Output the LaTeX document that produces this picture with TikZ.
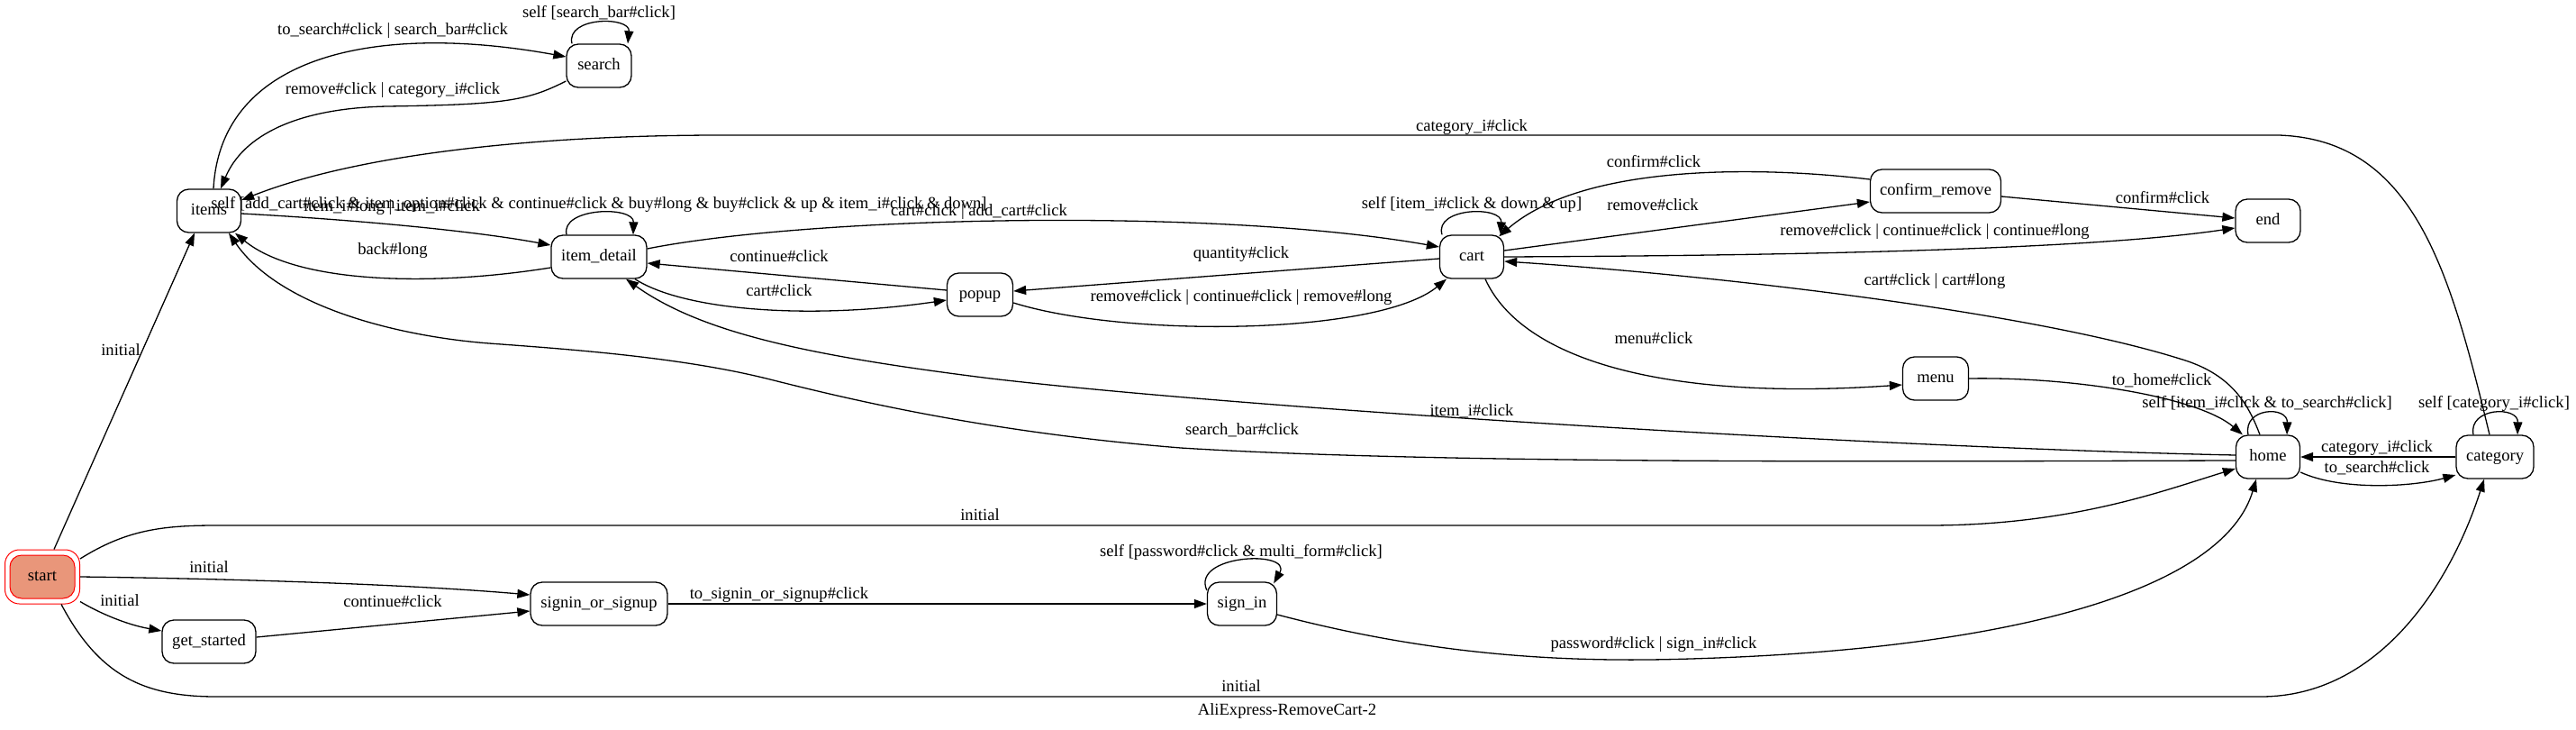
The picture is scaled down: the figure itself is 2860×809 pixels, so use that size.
\documentclass[tikz,border=0pt]{standalone}
\usepackage{fontspec}
\setmainfont{Liberation Serif}
\usetikzlibrary{arrows.meta}
\definecolor{salmonfill}{HTML}{E9967A}
\begin{document}
\begin{tikzpicture}[x=1pt,y=-1pt,
  every node/.style={font=\fontsize{18.6pt}{22pt}\selectfont},
  state/.style={draw, line width=1.3pt, rounded corners=13pt, minimum height=48pt, inner sep=0pt, text height=13pt, text depth=3.7pt},
  lbl/.style={inner sep=0pt, text height=13pt, text depth=3.7pt},
  edge/.style={line width=1.3pt, -{Triangle[length=14pt,width=10pt]}},
]
\fill[white] (0,0) rectangle (2860,809);
\useasboundingbox (0,0) rectangle (2860,809);

% nodes
\node[state, minimum width=72pt, fill=salmonfill, draw=red, line width=1pt] (start) at (47,640) {start};
\node[draw=red, line width=1pt, rounded corners=16pt, minimum width=83pt, minimum height=60pt, inner sep=0pt] (startouter) at (47,640) {};
\node[state, minimum width=71pt] (items) at (232,234) {items};
\node[state, minimum width=72pt] (search) at (665,73) {search};
\node[state, minimum width=106pt] (itemdetail) at (665,285) {item\_detail};
\node[state, minimum width=73pt] (popup) at (1088,327) {popup};
\node[state, minimum width=71pt] (cart) at (1634,285) {cart};
\node[state, minimum width=145pt] (confirmremove) at (2149,212) {confirm\_remove};
\node[state, minimum width=72pt] (endn) at (2518,245) {end};
\node[state, minimum width=73pt] (menu) at (2149,420) {menu};
\node[state, minimum width=71pt] (home) at (2518,507) {home};
\node[state, minimum width=86pt] (category) at (2770,507) {category};
\node[state, minimum width=104pt] (getstarted) at (232,712) {get\_started};
\node[state, minimum width=152pt] (signinup) at (665,670) {signin\_or\_signup};
\node[state, minimum width=77pt] (signin) at (1379,670) {sign\_in};

% edges from start
\draw[edge] ([xshift=13pt]startouter.north) -- ([xshift=-16pt]items.south);
\draw[edge] ([yshift=20pt]startouter.east) .. controls (140,588) and (180,583) .. (240,583) -- (2140,583) .. controls (2300,583) and (2400,545) .. ([yshift=-13pt]home.west);
\draw[edge] (startouter.east) .. controls (250,642) and (450,648) .. ([yshift=10pt]signinup.west);
\draw[edge] ([yshift=3pt]startouter.south east) .. controls (110,680) and (140,693) .. ([yshift=12pt]getstarted.west);
\draw[edge] ([xshift=21pt]startouter.south) .. controls (110,750) and (160,773) .. (240,773) -- (2510,773) .. controls (2640,773) and (2720,650) .. ([xshift=-12pt]category.south);

% sign-in chain
\draw[edge] ([yshift=5pt]getstarted.east) -- ([yshift=-8pt]signinup.west);
\draw[edge] (signinup.east) -- (signin.west);
\draw[edge] ([yshift=15pt]signin.west) .. controls (1322,615) and (1435,610) .. ([xshift=-4pt,yshift=-2pt]signin.north east);
\draw[edge] ([yshift=-12pt]signin.east) .. controls (1600,730) and (1750,735) .. (1877,731) .. controls (2250,720) and (2470,650) .. ([xshift=-13pt]home.south);

% items / search
\draw[edge] ([xshift=5pt]items.north) .. controls (245,60) and (420,25) .. ([yshift=10pt]search.west);
\draw[edge] ([yshift=-17pt]search.west) .. controls (585,112) and (560,116) .. (430,118) .. controls (330,120) and (270,150) .. ([xshift=13pt]items.north);
\draw[edge] ([xshift=-30pt]search.north) .. controls (628,18) and (700,18) .. ([xshift=32pt]search.north);

% items / item_detail
\draw[edge] ([yshift=-3pt]items.east) .. controls (380,243) and (520,255) .. ([yshift=13pt]itemdetail.west);
\draw[edge] ([yshift=-12pt]itemdetail.west) .. controls (480,318) and (330,315) .. ([xshift=29pt]items.south);
\draw[edge] ([xshift=-36pt]itemdetail.north) .. controls (622,230) and (704,228) .. ([xshift=38pt]itemdetail.north);

% item_detail / popup / cart
\draw[edge] ([yshift=9pt]itemdetail.east) .. controls (900,240) and (1350,230) .. ([yshift=11pt]cart.west);
\draw[edge] ([yshift=-2pt]cart.west) -- ([yshift=4pt]popup.east);
\draw[edge] ([yshift=-9pt]popup.east) .. controls (1250,375) and (1530,372) .. ([xshift=-28pt]cart.south);
\draw[edge] ([yshift=5pt]popup.west) -- ([yshift=-7pt]itemdetail.east);
\draw[edge] ([xshift=40pt]itemdetail.south) .. controls (760,345) and (900,355) .. ([yshift=-6pt]popup.west);
\draw[edge] ([xshift=-33pt]cart.north) .. controls (1592,230) and (1668,228) .. ([xshift=32pt]cart.north);

% cart / confirm_remove / end / menu
\draw[edge] ([yshift=7pt]cart.east) -- ([yshift=-12pt]confirmremove.west);
\draw[edge] ([yshift=13pt]confirmremove.west) .. controls (1960,185) and (1760,180) .. ([xshift=-6pt,yshift=-2pt]cart.north east);
\draw[edge] ([yshift=-6pt]confirmremove.east) -- ([yshift=3pt]endn.west);
\draw[edge] (cart.east) .. controls (1900,284) and (2300,280) .. ([yshift=-8pt]endn.west);
\draw[edge] ([xshift=15pt]cart.south) .. controls (1690,400) and (1850,445) .. ([yshift=-7pt]menu.west);

% home
\draw[edge] ([xshift=-9pt]home.north) .. controls (2495,445) and (2475,414) .. (2420,398) .. controls (2250,345) and (1900,305) .. ([yshift=-5pt]cart.east);
\draw[edge] (menu.east) .. controls (2300,418) and (2440,440) .. ([xshift=8pt]home.north west);
\draw[edge] ([xshift=-22pt]home.north) .. controls (2490,452) and (2540,450) .. ([xshift=21pt]home.north);
\draw[edge] ([yshift=2pt]home.west) .. controls (2100,497) and (1400,455) .. (1100,420) .. controls (900,395) and (780,370) .. ([xshift=30pt]itemdetail.south);
\draw[edge] ([yshift=-4pt]home.west) .. controls (2100,512) and (1600,515) .. (1311,497) .. controls (1100,480) and (950,445) .. (855,421) .. controls (760,397) and (640,388) .. (543,381) .. controls (440,373) and (310,340) .. ([xshift=22pt]items.south);
\draw[edge] ([yshift=-17pt]home.east) .. controls (2600,545) and (2680,540) .. ([yshift=-20pt]category.west);

% category
\draw[edge] (category.west) -- (home.east);
\draw[edge] ([xshift=-24pt]category.north) .. controls (2740,452) and (2796,450) .. ([xshift=25pt]category.north);
\draw[edge] ([xshift=-6pt]category.north) .. controls (2720,300) and (2680,155) .. (2530,150) -- (800,150) .. controls (600,150) and (400,170) .. ([yshift=12pt]items.east);

% labels
\node[lbl] (l01) at (134,390) {initial};
\node[lbl] (l02) at (1088,573) {initial};
\node[lbl] (l03) at (232,631) {initial};
\node[lbl] (l04) at (133,668) {initial};
\node[lbl] (l05) at (1378,763) {initial};
\node[lbl] (l06) at (436,669) {continue\#click};
\node[lbl] (l07) at (865,660) {to\_signin\_or\_signup\#click};
\node[lbl] (l08) at (1378,613) {self [password\#click \& multi\_form\#click]};
\node[lbl] (l09) at (1836,715) {password\#click | sign\_in\#click};
\node[lbl] (l10) at (436,34) {to\_search\#click | search\_bar\#click};
\node[lbl] (l11) at (436,100) {remove\#click | category\_i\#click};
\node[lbl] (l12) at (665,15) {self [search\_bar\#click]};
\node[lbl] (l13) at (435,230) {item\_i\#long | item\_i\#click};
\node[lbl] (l14) at (436,278) {back\#long};
\node[lbl] (l15) at (665,227) {self [add\_cart\#click \& item\_option\#click \& continue\#click \& buy\#long \& buy\#click \& up \& item\_i\#click \& down]};
\node[lbl] (l16) at (1087,235) {cart\#click | add\_cart\#click};
\node[lbl] (l17) at (1378,282) {quantity\#click};
\node[lbl] (l18) at (1378,330) {remove\#click | continue\#click | remove\#long};
\node[lbl] (l19) at (865,286) {continue\#click};
\node[lbl] (l20) at (865,324) {cart\#click};
\node[lbl] (l21) at (1634,227) {self [item\_i\#click \& down \& up]};
\node[lbl] (l22) at (1835,229) {remove\#click};
\node[lbl] (l23) at (1836,181) {confirm\#click};
\node[lbl] (l24) at (2401,221) {confirm\#click};
\node[lbl] (l25) at (2148,257) {remove\#click | continue\#click | continue\#long};
\node[lbl] (l26) at (2148,312) {cart\#click | cart\#long};
\node[lbl] (l27) at (1836,377) {menu\#click};
\node[lbl] (l28) at (2400,423) {to\_home\#click};
\node[lbl] (l29) at (2517,448) {self [item\_i\#click \& to\_search\#click]};
\node[lbl] (l30) at (1634,457) {item\_i\#click};
\node[lbl] (l31) at (1379,478) {search\_bar\#click};
\node[lbl] (l32) at (2639,520) {to\_search\#click};
\node[lbl] (l33) at (2639,497) {category\_i\#click};
\node[lbl] (l34) at (2769,448) {self [category\_i\#click]};
\node[lbl] (l35) at (1634,141) {category\_i\#click};
\node[lbl] (title) at (1429,789) {AliExpress-RemoveCart-2};
\end{tikzpicture}
\end{document}
